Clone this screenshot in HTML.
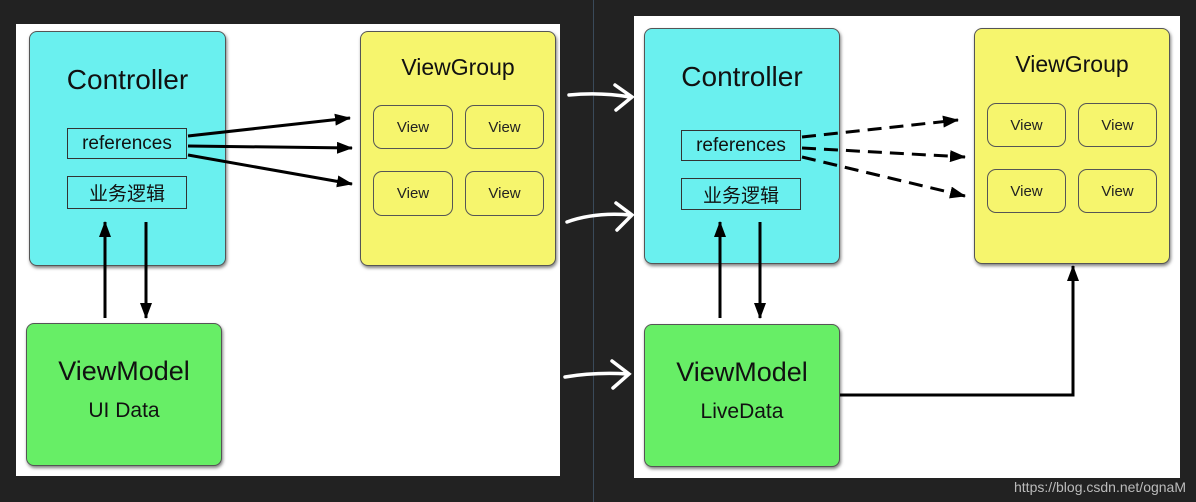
<!DOCTYPE html>
<html><head><meta charset="utf-8"><style>
body{margin:0;width:1196px;height:502px;background:#222;overflow:hidden;position:relative;font-family:"Liberation Sans","Noto Sans CJK SC",sans-serif}
.a{position:absolute}
.box{position:absolute;border:1px solid #555;border-radius:8px;box-shadow:1px 2px 3px rgba(0,0,0,.5);box-sizing:border-box;text-align:center;color:#111}
.c{background:#6af0ef}.y{background:#f6f56d}.g{background:#67ee66}
.v{position:absolute;border:1px solid #555;border-radius:9px;box-sizing:border-box;font-size:15px;display:flex;align-items:center;justify-content:center;color:#222}
.r{position:absolute;border:1px solid #333;box-sizing:border-box;display:flex;align-items:center;justify-content:center;font-size:19px;color:#111}
</style></head><body>
<div class="a" style="left:16px;top:24px;width:544px;height:452px;background:#fff"></div>
<div class="a" style="left:634px;top:16px;width:546px;height:462px;background:#fff"></div>
<div class="a" style="left:593px;top:0;width:1px;height:502px;background:#3a4a5a"></div>

<div class="box c" style="left:29px;top:31px;width:197px;height:235px"><div style="margin-top:32px;font-size:28px">Controller</div></div>
<div class="r" style="left:67px;top:128px;width:120px;height:31px">references</div>
<div class="r" style="left:67px;top:176px;width:120px;height:33px">业务逻辑</div>
<div class="box y" style="left:360px;top:31px;width:196px;height:235px"><div style="margin-top:22px;font-size:23px">ViewGroup</div></div>
<div class="v" style="left:373px;top:105px;width:80px;height:44px">View</div>
<div class="v" style="left:465px;top:105px;width:79px;height:44px">View</div>
<div class="v" style="left:373px;top:171px;width:80px;height:45px">View</div>
<div class="v" style="left:465px;top:171px;width:79px;height:45px">View</div>
<div class="box g" style="left:26px;top:323px;width:196px;height:143px"><div style="margin-top:32px;font-size:27px">ViewModel</div><div style="margin-top:12px;font-size:21px">UI Data</div></div>

<div class="box c" style="left:644px;top:28px;width:196px;height:236px"><div style="margin-top:32px;font-size:28px">Controller</div></div>
<div class="r" style="left:681px;top:130px;width:120px;height:31px">references</div>
<div class="r" style="left:681px;top:178px;width:120px;height:32px">业务逻辑</div>
<div class="box y" style="left:974px;top:28px;width:196px;height:236px"><div style="margin-top:22px;font-size:23px">ViewGroup</div></div>
<div class="v" style="left:987px;top:103px;width:79px;height:44px">View</div>
<div class="v" style="left:1078px;top:103px;width:79px;height:44px">View</div>
<div class="v" style="left:987px;top:169px;width:79px;height:44px">View</div>
<div class="v" style="left:1078px;top:169px;width:79px;height:44px">View</div>
<div class="box g" style="left:644px;top:324px;width:196px;height:143px"><div style="margin-top:32px;font-size:27px">ViewModel</div><div style="margin-top:12px;font-size:21px">LiveData</div></div>

<svg class="a" style="left:0;top:0" width="1196" height="502">
<defs><marker id="m" markerWidth="8" markerHeight="8" refX="7" refY="4" orient="auto" markerUnits="userSpaceOnUse"><path d="M0,0 L8,4 L0,8z" fill="#000"/></marker>
<marker id="n" markerWidth="16" markerHeight="12" refX="15" refY="6" orient="auto" markerUnits="userSpaceOnUse"><path d="M0,0 L16,6 L0,12z" fill="#000"/></marker></defs>
<g stroke="#000" stroke-width="3" fill="none">
<line x1="188" y1="136" x2="350" y2="118" marker-end="url(#n)"/>
<line x1="188" y1="146" x2="352" y2="148" marker-end="url(#n)"/>
<line x1="188" y1="155" x2="352" y2="184" marker-end="url(#n)"/>
<line x1="105" y1="318" x2="105" y2="222" marker-end="url(#n)"/>
<line x1="146" y1="222" x2="146" y2="318" marker-end="url(#n)"/>
<g stroke-dasharray="14,8">
<line x1="802" y1="137" x2="958" y2="120" marker-end="url(#n)"/>
<line x1="802" y1="148" x2="965" y2="157" marker-end="url(#n)"/>
<line x1="802" y1="157" x2="965" y2="196" marker-end="url(#n)"/>
</g>
<line x1="720" y1="318" x2="720" y2="222" marker-end="url(#n)"/>
<line x1="760" y1="222" x2="760" y2="318" marker-end="url(#n)"/>
<polyline points="840,395 1073,395 1073,266" marker-end="url(#n)"/>
</g>
<g stroke="#fff" stroke-width="3.5" fill="none" stroke-linecap="round">
<path d="M569,95 Q600,92 630,97 M615,85 L632,97 L616,110"/>
<path d="M567,222 Q595,212 630,215 M616,203 L632,215 L617,230"/>
<path d="M565,377 Q595,372 628,374 M612,361 L629,374 L613,388"/>
</g>
<text x="1186" y="492" text-anchor="end" font-size="14" fill="#bbb" font-family="Liberation Sans">https://blog.csdn.net/ognaM</text>
</svg>
</body></html>
